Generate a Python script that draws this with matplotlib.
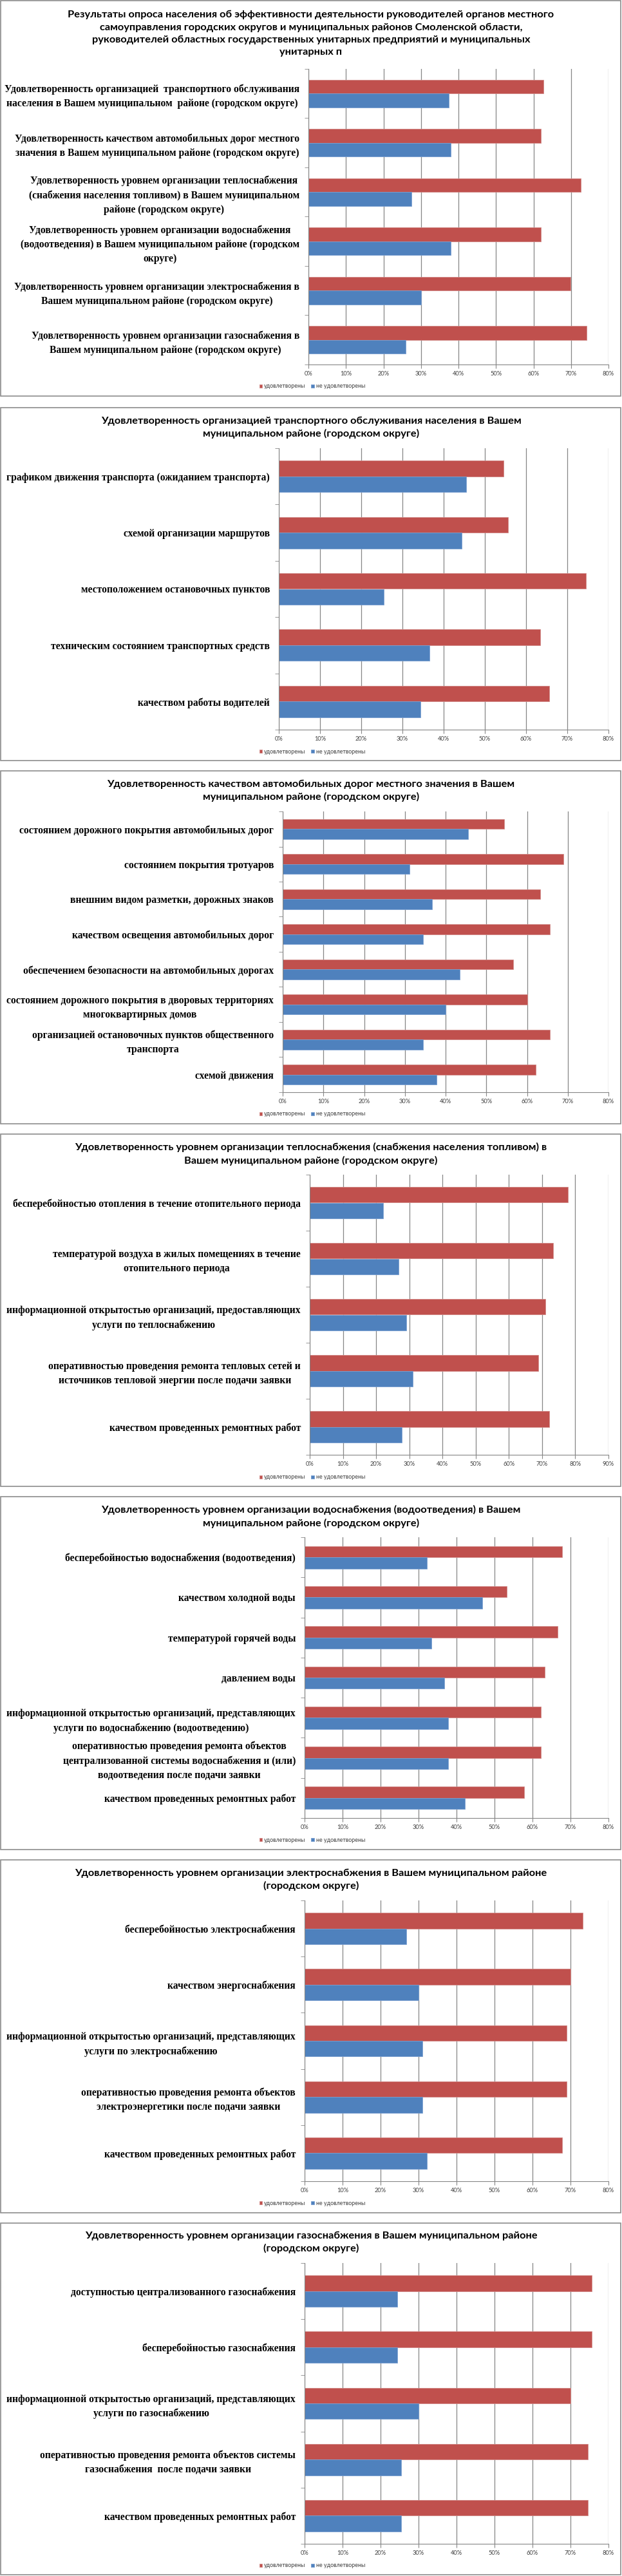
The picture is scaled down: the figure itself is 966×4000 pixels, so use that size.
import numpy as np
import matplotlib
matplotlib.use("Agg")
import matplotlib.pyplot as plt
from matplotlib.patches import Rectangle
from matplotlib.ticker import PercentFormatter, MultipleLocator

# COLOURS & FONTS
RED = "#C0504D"
BLUE = "#4F81BD"
GRID = "#868686"
SERIF = ["Liberation Serif", "DejaVu Serif"]
SANS = ["Lato", "Roboto", "DejaVu Sans"]

series_names = ["удовлетворены", "не удовлетворены"]

# DATA (percent)
summary_title = ("Результаты опроса населения об эффективности деятельности руководителей органов местного\n"
                 "самоуправления городских округов и муниципальных районов Смоленской области,\n"
                 "руководителей областных государственных унитарных предприятий и муниципальных\n"
                 "унитарных п")
summary_cats = [
    "Удовлетворенность организацией  транспортного обслуживания\nнаселения в Вашем муниципальном  районе (городском округе)",
    "Удовлетворенность качеством автомобильных дорог местного\nзначения в Вашем муниципальном районе (городском округе)",
    "Удовлетворенность уровнем организации теплоснабжения\n(снабжения населения топливом) в Вашем муниципальном\nрайоне (городском округе)",
    "Удовлетворенность уровнем организации водоснабжения\n(водоотведения) в Вашем муниципальном районе (городском\nокруге)",
    "Удовлетворенность уровнем организации электроснабжения в\nВашем муниципальном районе (городском округе)",
    "Удовлетворенность уровнем организации газоснабжения в\nВашем муниципальном районе (городском округе)",
]
summary_yes = [62.6, 62.0, 72.6, 62.0, 69.9, 74.1]
summary_no = [37.4, 38.0, 27.4, 38.0, 30.1, 25.9]

transport_title = ("Удовлетворенность организацией транспортного обслуживания населения в Вашем\n"
                   "муниципальном районе (городском округе)")
transport_cats = [
    "графиком движения транспорта (ожиданием транспорта)",
    "схемой организации маршрутов",
    "местоположением остановочных пунктов",
    "техническим состоянием транспортных средств",
    "качеством работы водителей",
]
transport_yes = [54.5, 55.6, 74.5, 63.4, 65.6]
transport_no = [45.5, 44.4, 25.5, 36.6, 34.4]

roads_title = ("Удовлетворенность качеством автомобильных дорог местного значения в Вашем\n"
               "муниципальном районе (городском округе)")
roads_cats = [
    "состоянием дорожного покрытия автомобильных дорог",
    "состоянием покрытия тротуаров",
    "внешним видом разметки, дорожных знаков",
    "качеством освещения автомобильных дорог",
    "обеспечением безопасности на автомобильных дорогах",
    "состоянием дорожного покрытия в дворовых территориях\nмногоквартирных домов",
    "организацией остановочных пунктов общественного\nтранспорта",
    "схемой движения",
]
roads_yes = [54.4, 68.9, 63.3, 65.6, 56.6, 60.0, 65.6, 62.2]
roads_no = [45.6, 31.1, 36.7, 34.4, 43.4, 40.0, 34.4, 37.8]

heat_title = ("Удовлетворенность уровнем организации теплоснабжения (снабжения населения топливом) в\n"
              "Вашем муниципальном районе (городском округе)")
heat_cats = [
    "бесперебойностью отопления в течение отопительного периода",
    "температурой воздуха в жилых помещениях в течение\nотопительного периода",
    "информационной открытостью организаций, предоставляющих\nуслуги по теплоснабжению",
    "оперативностью проведения ремонта тепловых сетей и\nисточников тепловой энергии после подачи заявки",
    "качеством проведенных ремонтных работ",
]
heat_yes = [77.8, 73.3, 71.0, 68.9, 72.2]
heat_no = [22.2, 26.7, 29.0, 31.1, 27.8]

water_title = ("Удовлетворенность уровнем организации водоснабжения (водоотведения) в Вашем\n"
               "муниципальном районе (городском округе)")
water_cats = [
    "бесперебойностью водоснабжения (водоотведения)",
    "качеством холодной воды",
    "температурой горячей воды",
    "давлением воды",
    "информационной открытостью организаций, представляющих\nуслуги по водоснабжению (водоотведению)",
    "оперативностью проведения ремонта объектов\nцентрализованной системы водоснабжения и (или)\nводоотведения после подачи заявки",
    "качеством проведенных ремонтных работ",
]
water_yes = [67.8, 53.3, 66.6, 63.3, 62.2, 62.2, 57.8]
water_no = [32.2, 46.7, 33.4, 36.7, 37.8, 37.8, 42.2]

power_title = ("Удовлетворенность уровнем организации электроснабжения в Вашем муниципальном районе\n"
               "(городском округе)")
power_cats = [
    "бесперебойностью электроснабжения",
    "качеством энергоснабжения",
    "информационной открытостью организаций, представляющих\nуслуги по электроснабжению",
    "оперативностью проведения ремонта объектов\nэлектроэнергетики после подачи заявки",
    "качеством проведенных ремонтных работ",
]
power_yes = [73.3, 70.0, 68.9, 68.9, 67.8]
power_no = [26.7, 30.0, 31.1, 31.1, 32.2]

gas_title = ("Удовлетворенность уровнем организации газоснабжения в Вашем муниципальном районе\n"
             "(городском округе)")
gas_cats = [
    "доступностью централизованного газоснабжения",
    "бесперебойностью газоснабжения",
    "информационной открытостью организаций, представляющих\nуслуги по газоснабжению",
    "оперативностью проведения ремонта объектов системы\nгазоснабжения  после подачи заявки",
    "качеством проведенных ремонтных работ",
]
gas_yes = [75.6, 75.6, 70.0, 74.5, 74.5]
gas_no = [24.4, 24.4, 30.0, 25.5, 25.5]

# FIGURE
W, H = 966, 4000
fig = plt.figure(figsize=(W / 100, H / 100), dpi=100)
renderer = fig.canvas.get_renderer()


def fit_size(sample, family, weight, target_px, base=10):
    # font size that makes the sample line as wide as in the picture
    t = fig.text(0, 0, sample, family=family, fontweight=weight, fontsize=base)
    w = t.get_window_extent(renderer).width
    t.remove()
    return base * target_px / w


LABEL_SIZE = fit_size("Удовлетворенность организацией  транспортного обслуживания", SERIF, "bold", 456)
TITLE_SIZE = fit_size("Удовлетворенность организацией транспортного обслуживания населения в Вашем", SANS, "bold", 654)
TICK_SIZE = fit_size("80%", SANS, "normal", 18)
LEG_SIZE = fit_size("не удовлетворены", SANS, "normal", 77)


def draw_panel(title, cats, yes, no, box_top, box_bottom, title_y, left, top, bottom, xmax, legend_y):
    # frame of the panel
    fig.patches.append(Rectangle((1 / W, 1 - box_bottom / H), 963 / W, (box_bottom - box_top) / H,
                                 transform=fig.transFigure, fill=False, edgecolor="#8c8c8c", lw=1.2))
    fig.text(483 / W, 1 - title_y / H, title, ha="center", va="center", family=SANS,
             fontweight="bold", fontsize=TITLE_SIZE, linespacing=1.45)

    ax = fig.add_axes([left / W, 1 - bottom / H, (945 - left) / W, (bottom - top) / H])
    n = len(cats)
    pos = np.arange(n)
    h = 0.28
    b1 = ax.barh(pos - h / 2, np.array(yes) / 100, height=h, color=RED, edgecolor="#d08a88", lw=0.6)
    b2 = ax.barh(pos + h / 2, np.array(no) / 100, height=h, color=BLUE, edgecolor="#7a9fd0", lw=0.6)
    ax.set_ylim(n - 0.5, -0.5)
    ax.set_xlim(0, xmax)
    ax.xaxis.set_major_locator(MultipleLocator(0.1))
    ax.xaxis.set_major_formatter(PercentFormatter(1.0, decimals=0))
    ax.grid(axis="x", color=GRID, lw=0.9)
    ax.set_axisbelow(True)

    ax.set_yticks(pos)
    ax.set_yticklabels(cats, family=SERIF, fontweight="bold", fontsize=LABEL_SIZE, multialignment="center",
                       linespacing=1.5)
    ax.set_yticks(np.arange(-0.5, n, 1), minor=True)
    ax.tick_params(axis="y", which="major", length=0, pad=10)
    ax.tick_params(axis="y", which="minor", length=4, color=GRID)
    ax.tick_params(axis="x", length=4, color=GRID, pad=3, labelsize=TICK_SIZE, labelcolor="#404040")
    for lab in ax.get_xticklabels():
        lab.set_family(SANS)
    for s in ["top", "right"]:
        ax.spines[s].set_visible(False)
    for s in ["left", "bottom"]:
        ax.spines[s].set_color(GRID)

    fig.legend([b1, b2], series_names, loc="center", bbox_to_anchor=(485 / W, 1 - legend_y / H),
               ncol=2, frameon=False, prop={"family": SANS, "size": LEG_SIZE}, labelcolor="#404040",
               handlelength=0.5, handleheight=0.6, handletextpad=0.3, columnspacing=1.0)


draw_panel(summary_title, summary_cats, summary_yes, summary_no, 1, 615, 52, 479, 107, 566, 0.8, 600)
draw_panel(transport_title, transport_cats, transport_yes, transport_no, 633, 1181, 664, 433, 696, 1133, 0.8, 1167)
draw_panel(roads_title, roads_cats, roads_yes, roads_no, 1197, 1745, 1228, 439, 1260, 1696, 0.8, 1730)
draw_panel(heat_title, heat_cats, heat_yes, heat_no, 1761, 2308, 1792, 481, 1824, 2259, 0.9, 2294)
draw_panel(water_title, water_cats, water_yes, water_no, 2324, 2872, 2355, 473, 2387, 2823, 0.8, 2857)
draw_panel(power_title, power_cats, power_yes, power_no, 2888, 3436, 2919, 473, 2951, 3387, 0.8, 3421)
draw_panel(gas_title, gas_cats, gas_yes, gas_no, 3452, 3998, 3482, 473, 3514, 3950, 0.8, 3984)

fig.savefig("out.png", dpi=100)
